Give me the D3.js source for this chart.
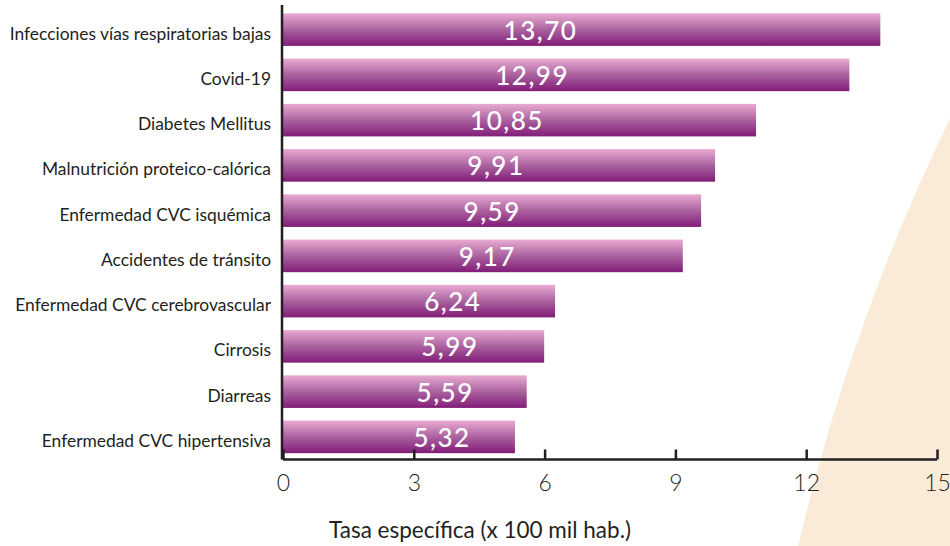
<!DOCTYPE html>
<html>
<head>
<meta charset="utf-8">
<script src="https://cdn.jsdelivr.net/npm/d3@7"></script>
<style>
  body { margin: 0; background: #fff; }
  svg { display: block; }
</style>
</head>
<body>
<div id="chart"></div>
<script>
(function(){

	var width = 950;
	var height = 546;

	var categories = [
		"Infecciones vías respiratorias bajas",
		"Covid-19",
		"Diabetes Mellitus",
		"Malnutrición proteico-calórica",
		"Enfermedad CVC isquémica",
		"Accidentes de tránsito",
		"Enfermedad CVC cerebrovascular",
		"Cirrosis",
		"Diarreas",
		"Enfermedad CVC hipertensiva"
	];
	var values = [13.70, 12.99, 10.85, 9.91, 9.59, 9.17, 6.24, 5.99, 5.59, 5.32];
	var ticks = [0, 3, 6, 9, 12, 15];
	var axisTitle = "Tasa específica (x 100 mil hab.)";

	var data = categories.map(function(c, i){
		return {name: c, value: values[i]};
	});

	var svg = d3.select("div#chart")
		.append("svg")
		.attr("width", width)
		.attr("height", height);

	// gradient for the bars
	var grad = svg.append("defs").append("linearGradient")
		.attr("id", "barGrad")
		.attr("x1", 0).attr("y1", 0)
		.attr("x2", 0).attr("y2", 1);
	grad.append("stop").attr("offset", "0%").attr("stop-color", "#e9abd2");
	grad.append("stop").attr("offset", "50%").attr("stop-color", "#aa629f");
	grad.append("stop").attr("offset", "100%").attr("stop-color", "#821c78");

	// beige decoration in the corner
	svg.append("circle")
		.attr("cx", 2761)
		.attr("cy", 1002)
		.attr("r", 2015)
		.attr("fill", "#f9ebd8");

	var x = d3.scaleLinear().domain([0, 15]).range([283, 937]);
	var labelX = d3.scaleLinear().domain([0, 15]).range([379.5, 555.75]);
	var y = d3.scaleBand()
		.domain(categories)
		.range([7, 459.5])
		.paddingInner(0.28)
		.paddingOuter(0.14);

	svg.selectAll(".bar")
		.data(data)
		.enter().append("rect")
		.attr("class", "bar")
		.attr("x", x(0))
		.attr("y", function(d){ return y(d.name); })
		.attr("width", function(d){ return x(d.value) - x(0); })
		.attr("height", y.bandwidth())
		.attr("fill", "url(#barGrad)");

	svg.selectAll(".val")
		.data(data)
		.enter().append("text")
		.attr("class", "val")
		.attr("x", function(d){ return labelX(d.value); })
		.attr("y", function(d){ return y(d.name) + y.bandwidth() / 2 + 10; })
		.attr("text-anchor", "middle")
		.attr("fill", "#fff")
		.style("font-family", "Lato, sans-serif")
		.style("font-size", "26px")
		.style("font-weight", "500")
		.style("letter-spacing", "1.5px")
		.text(function(d){ return d3.format(".2f")(d.value).replace(".", ","); });

	// category labels
	svg.selectAll(".cat")
		.data(data)
		.enter().append("text")
		.attr("class", "cat")
		.attr("x", 271)
		.attr("y", function(d){ return y(d.name) + y.bandwidth() / 2 + 10; })
		.attr("text-anchor", "end")
		.attr("fill", "#231f20")
		.style("font-family", "Lato, sans-serif")
		.style("font-size", "17.4px")
		.text(function(d){ return d.name; });

	// axes
	var xAxis = d3.axisBottom(x)
		.tickValues(ticks)
		.tickSize(-10)
		.tickPadding(15)
		.tickFormat(d3.format("d"));

	var gx = svg.append("g")
		.attr("transform", "translate(0," + y.range()[1] + ")")
		.call(xAxis);
	gx.select(".domain")
		.attr("d", "M" + x(0) + ",0H" + x(15))
		.attr("stroke", "#231f20")
		.attr("stroke-width", 2.5);
	gx.selectAll(".tick line")
		.attr("stroke", "#231f20")
		.attr("stroke-width", 2.5);
	gx.selectAll(".tick text")
		.attr("fill", "#231f20")
		.style("font-family", "Lato, sans-serif")
		.style("font-size", "23px")
		.style("font-weight", "300");

	svg.append("line")
		.attr("x1", x(0) - 1).attr("x2", x(0) - 1)
		.attr("y1", y.range()[0] - 2)
		.attr("y2", y.range()[1])
		.attr("stroke", "#231f20")
		.attr("stroke-width", 2.5);

	svg.append("text")
		.attr("x", 480)
		.attr("y", 538)
		.attr("text-anchor", "middle")
		.attr("fill", "#231f20")
		.style("font-family", "Lato, sans-serif")
		.style("font-size", "22.5px")
		.text(axisTitle);

})();
</script>
</body>
</html>
